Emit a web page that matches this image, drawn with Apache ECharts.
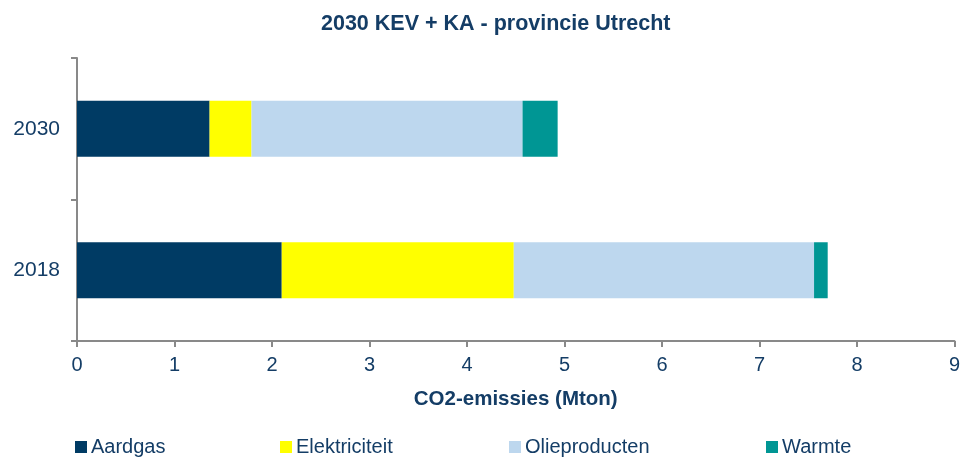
<!DOCTYPE html>
<html>
<head>
<meta charset="utf-8">
<script src="https://cdn.jsdelivr.net/npm/echarts@6/dist/echarts.min.js"></script>
<style>
html, body { margin: 0; padding: 0; background: #fff; }
#chart { width: 963px; height: 457px; }
</style>
</head>
<body>
<div id="chart"></div>
<script>
var years = ['2018', '2030'];
var aardgas = [2.10, 1.36];
var elektriciteit = [2.38, 0.43];
var olieproducten = [3.08, 2.78];
var warmte = [0.14, 0.36];
var seriesNames = ['Aardgas', 'Elektriciteit', 'Olieproducten', 'Warmte'];
var xTicks = [0, 1, 2, 3, 4, 5, 6, 7, 8, 9];

var txt = '#143D66';
var font = '"Liberation Sans", Arial, sans-serif';
var colors = ['#003B64', '#FFFF00', '#BDD7EE', '#009694'];

var myChart = echarts.init(document.getElementById('chart'));

function legendAt(name, left) {
    return {
        data: [name],
        left: left,
        top: 437,
        icon: 'rect',
        itemWidth: 12,
        itemHeight: 12,
        itemGap: 0,
        padding: 0,
        textStyle: { color: txt, fontSize: 20, fontFamily: font, padding: [0, 0, 0, -1] }
    };
}

var option = {
    color: colors,
    animation: false,
    title: {
        text: '2030 KEV + KA - provincie Utrecht',
        left: 316,
        top: 8,
        textStyle: { color: txt, fontSize: 21.5, fontWeight: 'bold', fontFamily: font }
    },
    legend: [
        legendAt(seriesNames[0], 75),
        legendAt(seriesNames[1], 280),
        legendAt(seriesNames[2], 509),
        legendAt(seriesNames[3], 766)
    ],
    grid: { left: 77, right: 7, top: 58, bottom: 116 },
    xAxis: {
        type: 'value',
        min: xTicks[0],
        max: xTicks[xTicks.length - 1],
        interval: 1,
        name: 'CO2-emissies (Mton)',
        nameLocation: 'middle',
        nameGap: 48,
        nameTextStyle: { color: txt, fontSize: 20.5, fontWeight: 'bold', fontFamily: font },
        axisLine: { show: true, lineStyle: { color: '#898989', width: 2 } },
        axisTick: { show: true, length: 6, lineStyle: { color: '#898989', width: 2 } },
        axisLabel: { color: txt, fontSize: 20, fontFamily: font, margin: 14 },
        splitLine: { show: false }
    },
    yAxis: {
        type: 'category',
        data: years,
        axisLine: { show: true, lineStyle: { color: '#898989', width: 2 } },
        axisTick: { show: true, length: 6, lineStyle: { color: '#898989', width: 2 } },
        axisLabel: { color: txt, fontSize: 21, fontFamily: font, margin: 17 }
    },
    series: [
        { name: seriesNames[0], type: 'bar', stack: 'tot', barWidth: 56, data: aardgas },
        { name: seriesNames[1], type: 'bar', stack: 'tot', barWidth: 56, data: elektriciteit },
        { name: seriesNames[2], type: 'bar', stack: 'tot', barWidth: 56, data: olieproducten },
        { name: seriesNames[3], type: 'bar', stack: 'tot', barWidth: 56, data: warmte }
    ]
};
myChart.setOption(option);
</script>
</body>
</html>
